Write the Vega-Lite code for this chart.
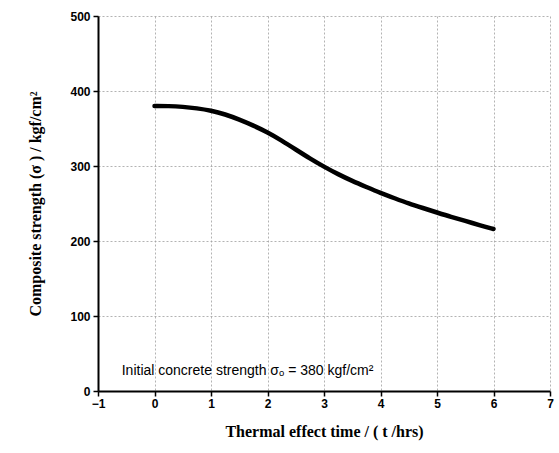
{
  "$schema": "https://vega.github.io/schema/vega-lite/v6.json",
  "autosize": "none",
  "width": 452,
  "height": 375,
  "padding": {"left": 98, "top": 16, "right": 9, "bottom": 62},
  "background": "white",
  "config": {"view": {"stroke": null}},
  "datasets": {
    "curve": [
      {"t": 0, "s": 380}, {"t": 0.25, "s": 380}, {"t": 0.5, "s": 379}, {"t": 0.75, "s": 377},
      {"t": 1, "s": 374}, {"t": 1.25, "s": 369}, {"t": 1.5, "s": 362}, {"t": 1.75, "s": 354},
      {"t": 2, "s": 345}, {"t": 2.25, "s": 334}, {"t": 2.5, "s": 322}, {"t": 2.75, "s": 310},
      {"t": 3, "s": 299}, {"t": 3.25, "s": 289}, {"t": 3.5, "s": 280}, {"t": 3.75, "s": 272},
      {"t": 4, "s": 264}, {"t": 4.25, "s": 257}, {"t": 4.5, "s": 250}, {"t": 4.75, "s": 244},
      {"t": 5, "s": 238}, {"t": 5.25, "s": 232}, {"t": 5.5, "s": 227}, {"t": 5.75, "s": 221},
      {"t": 6, "s": 216}
    ],
    "note": [{"t": -0.58, "s": 27, "label": "Initial concrete strength σₒ = 380 kgf/cm²"}]
  },
  "layer": [
    {
      "data": {"name": "curve"},
      "mark": {"type": "line", "color": "black", "strokeWidth": 4.5, "strokeCap": "round", "interpolate": "basis"},
      "encoding": {
        "x": {
          "field": "t", "type": "quantitative",
          "scale": {"domain": [-1, 7], "nice": false, "zero": false},
          "axis": {
            "title": "Thermal effect time / ( t /hrs)",
            "titleFont": "Liberation Serif", "titleFontSize": 16, "titleFontWeight": "bold", "titleColor": "black",
            "titlePadding": 14,
            "values": [-1, -0.5, 0, 0.5, 1, 1.5, 2, 2.5, 3, 3.5, 4, 4.5, 5, 5.5, 6, 6.5, 7],
            "format": "d",
            "labelExpr": "datum.value % 1 === 0 ? datum.label : ''",
            "labelFont": "Liberation Sans", "labelFontSize": 12, "labelFontWeight": "bold", "labelColor": "black",
            "labelPadding": 2, "labelFlush": false,
            "domainColor": "black", "domainWidth": 2,
            "tickColor": "black", "tickWidth": 1.5, "tickSize": 5,
            "gridColor": "#a0a0a0", "gridDash": [2, 2], "gridWidth": 0.8,
            "gridOpacity": {"expr": "datum.value % 1 === 0 ? 1 : 0"}
          }
        },
        "y": {
          "field": "s", "type": "quantitative",
          "scale": {"domain": [0, 500], "nice": false},
          "axis": {
            "title": "Composite strength  (σ ) / kgf/cm²",
            "titleFont": "Liberation Serif", "titleFontSize": 16, "titleFontWeight": "bold", "titleColor": "black",
            "titlePadding": 26,
            "values": [0, 50, 100, 150, 200, 250, 300, 350, 400, 450, 500],
            "format": "d",
            "labelExpr": "datum.value % 100 === 0 ? datum.label : ''",
            "labelFont": "Liberation Sans", "labelFontSize": 12, "labelFontWeight": "bold", "labelColor": "black",
            "labelPadding": 3,
            "domainColor": "black", "domainWidth": 2,
            "tickColor": "black", "tickWidth": 1.5, "tickSize": 5,
            "gridColor": "#a0a0a0", "gridDash": [2, 2], "gridWidth": 0.8
          }
        }
      }
    },
    {
      "data": {"name": "note"},
      "mark": {"type": "text", "align": "left", "baseline": "middle", "font": "Liberation Sans", "fontSize": 14, "color": "black"},
      "encoding": {
        "x": {"field": "t", "type": "quantitative"},
        "y": {"field": "s", "type": "quantitative"},
        "text": {"field": "label"}
      }
    }
  ]
}
